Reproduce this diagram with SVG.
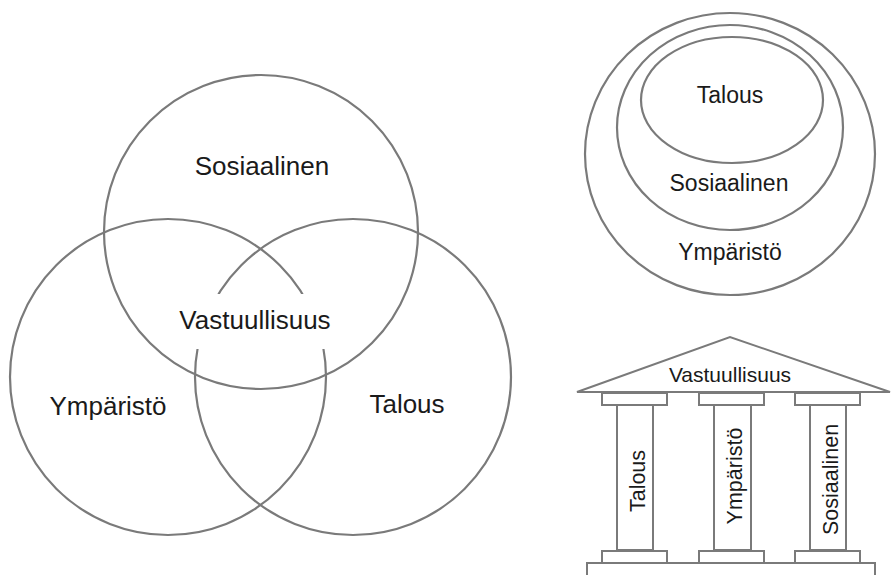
<svg xmlns="http://www.w3.org/2000/svg" width="891" height="575" viewBox="0 0 891 575">
<style>
.ln{fill:none;stroke:#7a7a7a;stroke-width:2.2}
.bx{fill:#fff;stroke:#7a7a7a;stroke-width:2}
.t{font-family:"Liberation Sans",Arial,sans-serif;fill:#1a1a1a;text-anchor:middle}
.v{font-size:26px}
.n{font-size:23px}
.p{font-size:21.5px}
</style>
<rect width="891" height="575" fill="#fff"/>
<g id="venn">
  <g id="venn-sosiaalinen"><circle class="ln" cx="261" cy="232" r="157"/></g>
  <g id="venn-ymparisto"><circle class="ln" cx="168" cy="377" r="158"/></g>
  <g id="venn-talous"><circle class="ln" cx="353" cy="377" r="158"/></g>
  <rect x="190" y="294" width="145" height="55" fill="#fff"/>
  <text class="t v" x="262" y="175">Sosiaalinen</text>
  <g id="venn-vastuullisuus"><text class="t v" x="255" y="329">Vastuullisuus</text></g>
  <text class="t v" x="108" y="415">Ympäristö</text>
  <text class="t v" x="407" y="413">Talous</text>
</g>
<g id="nested">
  <g id="nest-ymparisto"><ellipse class="ln" cx="730" cy="154" rx="145" ry="141"/>
    <text class="t n" x="730" y="260">Ympäristö</text></g>
  <g id="nest-sosiaalinen"><ellipse class="ln" cx="730" cy="127.5" rx="113" ry="102.5"/>
    <text class="t n" x="729" y="191">Sosiaalinen</text></g>
  <g id="nest-talous"><ellipse class="ln" cx="732" cy="100" rx="91" ry="63"/>
    <text class="t n" x="730" y="103">Talous</text></g>
</g>
<g id="temple">
  <g id="roof"><polygon class="bx" points="577,392 730,337 890,392"/>
    <text class="t" style="font-size:21px" x="730" y="382">Vastuullisuus</text></g>
  <rect class="bx" x="587" y="563" width="288" height="20"/>
  <g id="pillar-talous">
    <rect class="bx" x="617" y="405" width="36" height="145"/>
    <rect class="bx" x="602" y="393" width="65" height="12"/>
    <rect class="bx" x="602" y="551" width="65" height="12"/>
    <text class="t p" transform="translate(645,481) rotate(-90)">Talous</text>
  </g>
  <g id="pillar-ymparisto">
    <rect class="bx" x="714" y="405" width="37" height="145"/>
    <rect class="bx" x="699" y="393" width="65" height="12"/>
    <rect class="bx" x="699" y="551" width="65" height="12"/>
    <text class="t p" transform="translate(742,476) rotate(-90)">Ympäristö</text>
  </g>
  <g id="pillar-sosiaalinen">
    <rect class="bx" x="810" y="405" width="36" height="145"/>
    <rect class="bx" x="795" y="393" width="65" height="12"/>
    <rect class="bx" x="795" y="551" width="65" height="12"/>
    <text class="t p" transform="translate(838,479.5) rotate(-90)">Sosiaalinen</text>
  </g>
</g>
</svg>
